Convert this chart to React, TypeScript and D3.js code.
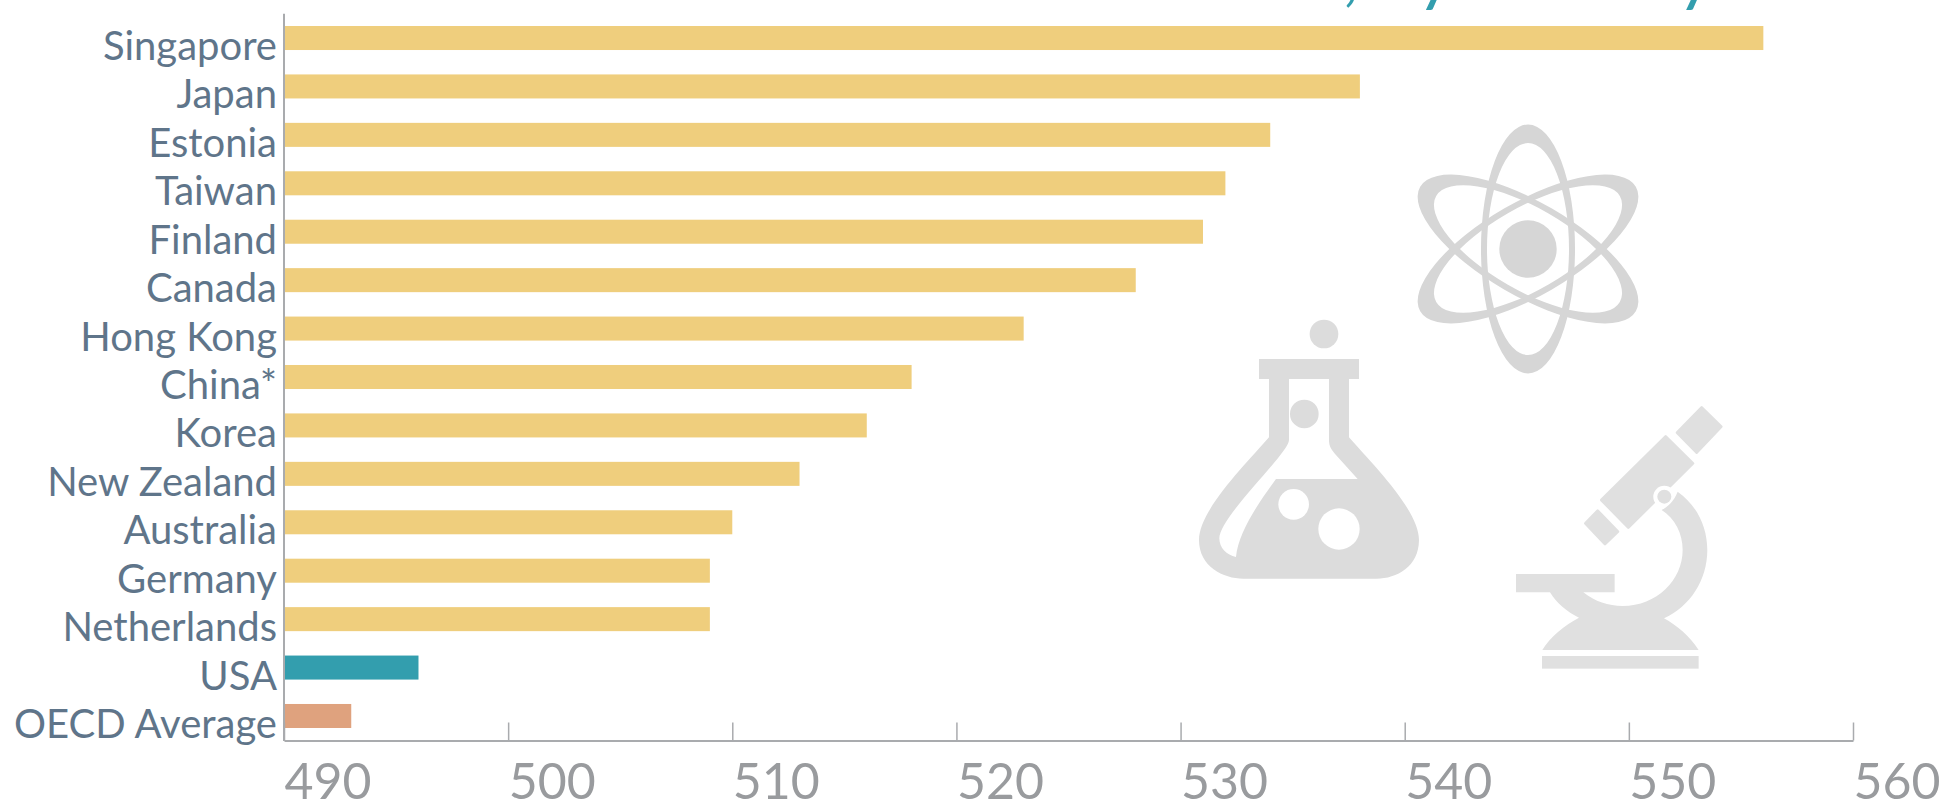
import { useEffect, useRef } from 'react';
import * as d3 from 'd3';

const WIDTH = 1954;
const HEIGHT = 811;

const countries = ['Singapore', 'Japan', 'Estonia', 'Taiwan', 'Finland', 'Canada', 'Hong Kong', 'China*', 'Korea', 'New Zealand', 'Australia', 'Germany', 'Netherlands', 'USA', 'OECD Average'];
const scores = [556, 538, 534, 532, 531, 528, 523, 518, 516, 513, 510, 509, 509, 496, 493];
const xTicks = [490, 500, 510, 520, 530, 540, 550, 560];
// title runs off the top of the picture, only the tail of it is visible
const titleTail = ', by country';

const YELLOW = '#efce7d';
const TEAL = '#339eae';
const SALMON = '#dfa27e';
const FONT = 'Lato, sans-serif';

function barColor(name: string) {
  if (name === 'USA') return TEAL;
  if (name === 'OECD Average') return SALMON;
  return YELLOW;
}

function Atom() {
  const ring = 'M0 -124.5A47 124.5 0 1 1 0 124.5A47 124.5 0 1 1 0 -124.5Z M0 -106A41 106 0 1 0 0 106A41 106 0 1 0 0 -106Z';
  return (
    <g transform="translate(1528,249)" fill="#d6d6d6">
      <circle r={28.7} />
      {[0, 60, -60].map(a => <path key={a} d={ring} transform={`rotate(${a})`} />)}
    </g>
  );
}

function Flask() {
  return (
    <g transform="translate(1180,310) scale(0.3333)" fill="#dcdcdc">
      <circle cx={432} cy={72} r={43} />
      <rect x={237} y={147} width={300} height={60} />
      <path
        fillRule="evenodd"
        d="M267 200V382C200 460 57 600 57 690C57 770 130 806 190 806H590C650 806 717 770 717 690C717 600 575 460 507 382V200Z
           M327 207V390C327 430 118 620 118 685C118 715 140 735 168 741C175 660 250 560 288 507H533L470 437C455 420 447 410 447 390V207Z"
      />
      <circle cx={373} cy={312} r={43} />
      <circle cx={341} cy={583} r={46} fill="#fff" />
      <circle cx={477} cy={657} r={62} fill="#fff" />
    </g>
  );
}

function Microscope() {
  return (
    <g transform="translate(1500,390) scale(0.3333)" fill="#e0e0e0" stroke="none">
      <path d="M605 52L664 110L590 188L531 128Z" stroke="#e0e0e0" strokeWidth={8} strokeLinejoin="round" />
      <path d="M497 139L579 220L385 413L304 330Z" stroke="#e0e0e0" strokeWidth={8} strokeLinejoin="round" />
      <path d="M293 362L354 425L315 462L256 400Z" stroke="#e0e0e0" strokeWidth={8} strokeLinejoin="round" />
      <circle cx={493} cy={320} r={33} fill="#fff" />
      <circle cx={493} cy={320} r={21} />
      <path d="M533 305C590 345 622 410 622 480C622 570 570 650 492 685C530 705 570 740 596 780H127C150 740 195 705 237 683C200 665 170 640 150 607H48V552H344V607H250C285 635 325 648 368 648C470 648 548 570 548 480C548 430 525 385 485 360C500 352 522 335 533 305Z" />
      <rect x={126} y={798} width={470} height={38} />
    </g>
  );
}

export default function App() {
  const axisRef = useRef<SVGGElement>(null);

  const x = d3.scaleLinear().domain([490, 560]).range([284, 1853]);
  const y = d3.scaleBand<string>()
    .domain(countries)
    .range([13.8, 740.2])
    .paddingInner(0.504)
    .paddingOuter(0.252);

  useEffect(() => {
    if (!axisRef.current) return;
    const axis = d3.axisBottom(x)
      .tickValues(xTicks)
      .tickSizeInner(-18)
      .tickSizeOuter(0)
      .tickPadding(22.5);
    const g = d3.select(axisRef.current);
    g.call(axis);
    g.select('.domain').attr('stroke', '#a9abae').attr('stroke-width', 2);
    g.selectAll('.tick line').attr('stroke', '#a9abae').attr('stroke-width', 1.5);
    g.selectAll('.tick text')
      .attr('text-anchor', 'start')
      .attr('fill', '#999b9e')
      .attr('font-family', FONT)
      .attr('font-size', 50);
  }, []);

  return (
    <svg
      width={WIDTH}
      height={HEIGHT}
      style={{ position: 'absolute', left: 0, top: 0, background: '#fff' }}
    >
      <text x={1714} y={-2} textAnchor="end" fontFamily={FONT} fontSize={72} fill={TEAL}>{titleTail}</text>

      <Atom />
      <Flask />
      <Microscope />

      {countries.map((c, i) => (
        <rect
          key={c}
          x={x(490)}
          y={y(c)}
          width={x(scores[i]) - x(490)}
          height={y.bandwidth()}
          fill={barColor(c)}
        />
      ))}

      <line x1={x(490)} x2={x(490)} y1={13.8} y2={741} stroke="#a9abae" strokeWidth={2} />
      <g ref={axisRef} transform="translate(0,740.5)" />

      {countries.map(c => (
        <text
          key={c}
          x={277}
          y={(y(c) as number) + y.bandwidth() / 2 + 22}
          textAnchor="end"
          fontFamily={FONT}
          fontSize={40}
          fill="#5f758a"
        >
          {c}
        </text>
      ))}
    </svg>
  );
}
